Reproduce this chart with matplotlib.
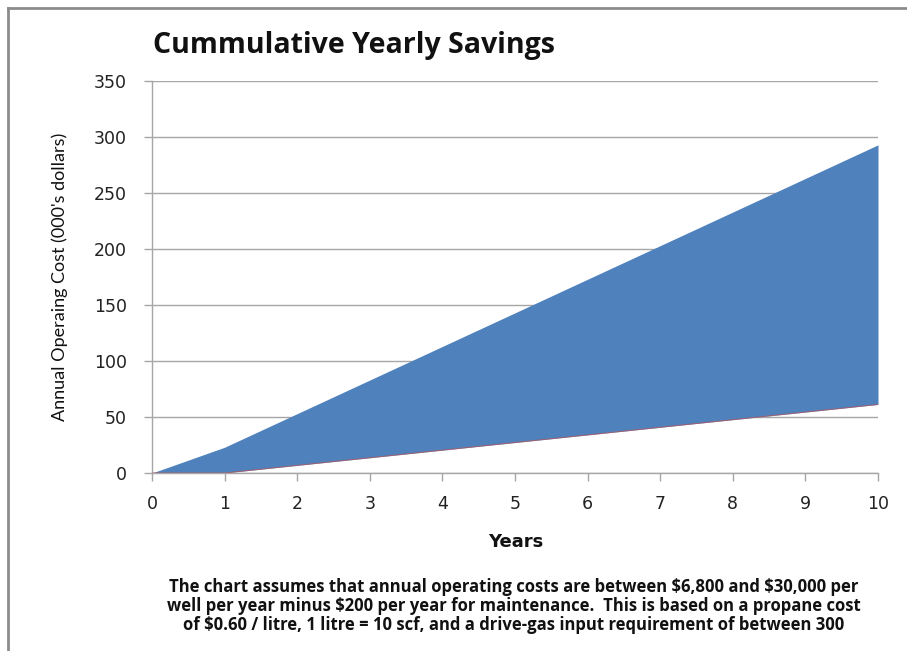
#!/usr/bin/env python3
# coding: utf-8

import matplotlib
matplotlib.use("Agg")
import matplotlib.pyplot as plt
from matplotlib.lines import Line2D

# data (000's dollars)
years = [0, 1, 2, 3, 4, 5, 6, 7, 8, 9, 10]
low_savings = [0, 0, 6.8, 13.6, 20.4, 27.2, 34.0, 40.8, 47.6, 54.4, 61.2]
high_savings = [0, 23, 53, 83, 113, 143, 173, 203, 233, 263, 293]
y_ticks = [0, 50, 100, 150, 200, 250, 300, 350]
x_ticks = years

title = "Cummulative Yearly Savings"
xlabel = "Years"
ylabel = "Annual Operaing Cost (000's dollars)"
note = ("The chart assumes that annual operating costs are between \\$6,800 and \\$30,000 per\n"
        "well per year minus \\$200 per year for maintenance.  This is based on a propane cost\n"
        "of \\$0.60 / litre, 1 litre = 10 scf, and a drive-gas input requirement of between 300")

W, H = 907, 651
fig = plt.figure(figsize=(W / 100, H / 100), dpi=100)
ax = fig.add_axes([152 / W, 1 - 473 / H, (878 - 152) / W, (473 - 81) / H])

ax.fill_between(years, low_savings, high_savings, color="#4F81BD", linewidth=0, zorder=2)
ax.plot(years, low_savings, color="#C0504D", linewidth=0.7, alpha=0.7, zorder=3)

ax.set_xlim(0, 10)
ax.set_ylim(0, 350)
ax.set_xticks(x_ticks)
ax.set_yticks(y_ticks)
ax.grid(axis="y", color="#A6A6A6", linewidth=1.0, zorder=1)
ax.set_axisbelow(True)

for s in ("top", "right"):
    ax.spines[s].set_visible(False)
for s in ("left", "bottom"):
    ax.spines[s].set_color("#A6A6A6")
    ax.spines[s].set_linewidth(1.0)

ax.tick_params(axis="both", colors="#A6A6A6", labelcolor="#222222",
               labelsize=12.5, length=6, width=1.0, direction="out")
ax.tick_params(axis="x", pad=10)
ax.tick_params(axis="y", pad=12)
for lab in ax.get_xticklabels() + ax.get_yticklabels():
    lab.set_family("DejaVu Sans")

fig.text(153 / W, 1 - 45 / H, title, fontsize=20.5, fontweight="bold",
         family=["Open Sans", "DejaVu Sans"], ha="left", va="center", color="#111111")

fig.text(516 / W, 1 - 542 / H, xlabel, fontsize=13, fontweight="bold",
         family=["DejaVu Sans"], ha="center", va="center", color="#111111")

fig.text(60 / W, 1 - 277 / H, ylabel, fontsize=13, rotation=90,
         family=["Liberation Sans Narrow", "Lato", "DejaVu Sans"],
         ha="center", va="center", color="#111111")

fig.text(514 / W, 1 - 606 / H, note, fontsize=12, fontweight="bold",
         family=["Open Sans", "DejaVu Sans"], ha="center", va="center",
         linespacing=1.05, color="#111111")

# outer frame (only top and left edges visible in the reference)
fig.add_artist(Line2D([8 / W, 8 / W], [0, 1 - 8 / H], transform=fig.transFigure,
                      color="#8C8C8C", linewidth=2))
fig.add_artist(Line2D([8 / W, 1], [1 - 8 / H, 1 - 8 / H], transform=fig.transFigure,
                      color="#8C8C8C", linewidth=2))

fig.savefig("out.png", dpi=100, facecolor="white")
plt.close(fig)
